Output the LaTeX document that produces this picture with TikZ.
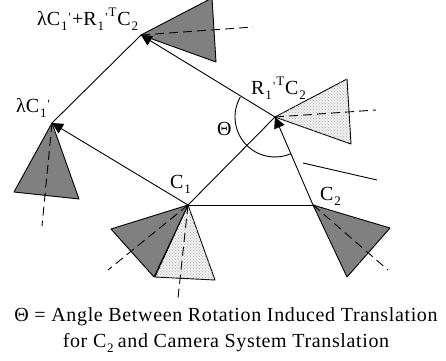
\documentclass[tikz,border=0pt]{standalone}
\usepackage{fontspec}
\setmainfont{Liberation Serif}
\newfontfamily\capfont[LetterSpace=3.2]{Liberation Serif}
\newfontfamily\plainf{Liberation Serif}
\usetikzlibrary{arrows.meta,patterns}
\newcommand{\lowidx}[1]{\kern0.8pt\raisebox{-0.28em}{\scalebox{0.65}{#1}}\kern1.2pt}
\newcommand{\primemark}{\raisebox{0.2em}{\scalebox{0.62}{\plainf '}}\kern1.2pt}
\newcommand{\highT}{\raisebox{0.45em}{\scalebox{0.65}{T}}\kern0.8pt}
\tikzset{
  x=1pt,y=-1pt,
  line/.style={draw=black,line width=0.9pt},
  arrowline/.style={line,-{Triangle[length=11pt,width=11pt]}},
  darkcam/.style={draw=black,line width=0.9pt,fill=black!50,line join=round},
  lightcam/.style={draw=black,line width=0.9pt,fill=black!6,line join=round,postaction={pattern=crosshatch dots,pattern color=black!30}},
  axisline/.style={draw=black,line width=0.9pt,dash pattern=on 9pt off 5pt},
  lab/.style={inner sep=0pt,font=\fontsize{20}{22}\selectfont},
  captext/.style={inner sep=0pt,align=center,font=\capfont\fontsize{20}{26}\selectfont}
}
\begin{document}
\begin{tikzpicture}
\useasboundingbox (0,0) rectangle (446,360);
\coordinate (C1) at (188,205);
\coordinate (C2) at (313,205);
\coordinate (R) at (275,117);
\coordinate (A) at (52,123);
\coordinate (B) at (141,35);
% cameras
\begin{scope}
\clip (0,0) rectangle (446,360);
\filldraw[darkcam] (B) -- (212,-2) -- (216,62) -- cycle;
\end{scope}
\coordinate (Bend) at (253,27);
\draw[axisline] (B) -- (Bend);
\filldraw[darkcam] (A) -- (14,192) -- (79,199) -- cycle;
\coordinate (Aend) at (42,226);
\draw[axisline] (A) -- (Aend);
\filldraw[lightcam] (R) -- (347,79) -- (351,144) -- cycle;
\coordinate (Rend) at (376,110);
\draw[axisline] (R) -- (Rend);
\filldraw[lightcam] (C1) -- (155,277) -- (215,280) -- cycle;
\coordinate (Lend) at (178,298);
\draw[axisline] (C1) -- (Lend);
\filldraw[darkcam] (C1) -- (111,229) -- (154,277) -- cycle;
\coordinate (Dend) at (108,270);
\draw[axisline] (C1) -- (Dend);
\filldraw[darkcam] (C2) -- (390,228) -- (347,277) -- cycle;
\coordinate (Eend) at (388,270);
\draw[axisline] (C2) -- (Eend);
% connectors
\draw[line] (C1) -- (C2);
\draw[line] (C1) -- (R);
\draw[line] (A) -- (B);
\draw[arrowline] (C1) -- (A);
\draw[arrowline] (R) -- (B);
\draw[arrowline] (C2) -- (R);
% free line
\coordinate (Fa) at (303,163);
\coordinate (Fb) at (377,180);
\draw[line] (Fa) -- (Fb);
% angle arc
\draw[line] (R) ++(150:40pt) arc[start angle=150,end angle=293,x radius=40pt,y radius=40pt];
% labels
\node[lab,anchor=base west] (l1) at (37,25) {λC\lowidx{1}\primemark+R\lowidx{1}\primemark\highT C\lowidx{2}};
\node[lab,anchor=base west] (l2) at (16,112) {λC\lowidx{1}\primemark};
\node[lab,anchor=base west] (l3) at (251,94) {R\lowidx{1}\primemark\highT C\lowidx{2}};
\node[lab,anchor=base west] (l4) at (217,135) {Θ};
\node[lab,anchor=base west] (l5) at (170,188) {C\lowidx{1}};
\node[lab,anchor=base west] (l6) at (320,200) {C\lowidx{2}};
\node[captext,anchor=base] (c) at (226,347) {Θ = Angle Between Rotation Induced Translation\\for C\lowidx{2}\kern3pt and Camera System Translation};
\end{tikzpicture}
\end{document}
